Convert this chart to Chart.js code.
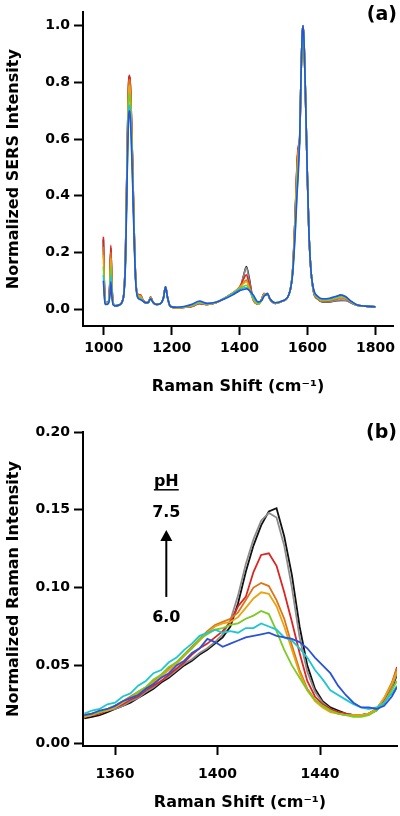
<!DOCTYPE html>
<html>
<head>
<meta charset="utf-8">
<script src="https://cdn.jsdelivr.net/npm/chart.js@4.4.1/dist/chart.umd.min.js"></script>
<style>
  html, body { margin: 0; padding: 0; background: #fff; }
  #wrap { width: 400px; height: 816px; }
  canvas { display: block; }
</style>
</head>
<body>
<div id="wrap">
  <canvas id="chartA" width="400" height="400"></canvas>
  <canvas id="chartB" width="400" height="416"></canvas>
</div>
<script>
// ---- panel (a): full SERS spectra ----
const shiftA = [999, 1001, 1004, 1008, 1014, 1018, 1021, 1024, 1028, 1035,
  1045, 1054, 1060, 1064, 1068, 1071, 1074, 1076, 1078, 1081,
  1085, 1089, 1094, 1100, 1108, 1115, 1124, 1132, 1138, 1145,
  1155, 1168, 1176, 1182, 1188, 1196, 1215, 1240, 1262, 1282,
  1305, 1330, 1355, 1380, 1400, 1412, 1420, 1428, 1440, 1455,
  1465, 1472, 1477, 1482, 1490, 1505, 1525, 1545, 1556, 1564,
  1569, 1573, 1577, 1581, 1584, 1587, 1590, 1594, 1599, 1604,
  1610, 1618, 1630, 1645, 1665, 1685, 1698, 1712, 1728, 1745,
  1770, 1800];

const a_blue = [0.100, 0.060, 0.018, 0.016, 0.020, 0.045, 0.096, 0.045, 0.014, 0.011,
  0.014, 0.025, 0.060, 0.16, 0.40, 0.58, 0.69, 0.70, 0.68, 0.60,
  0.45, 0.27, 0.100, 0.040, 0.033, 0.028, 0.022, 0.024, 0.036, 0.024,
  0.016, 0.020, 0.040, 0.078, 0.040, 0.010, 0.006, 0.010, 0.018, 0.028,
  0.020, 0.024, 0.035, 0.050, 0.065, 0.069, 0.071, 0.067, 0.050, 0.025,
  0.030, 0.045, 0.050, 0.055, 0.035, 0.022, 0.028, 0.050, 0.120, 0.270,
  0.400, 0.480, 0.600, 0.820, 0.960, 1.000, 0.940, 0.760, 0.500, 0.280,
  0.140, 0.070, 0.045, 0.036, 0.038, 0.045, 0.050, 0.044, 0.028, 0.015,
  0.010, 0.008];
const a_cyan = [0.120, 0.070, 0.020, 0.018, 0.022, 0.055, 0.120, 0.055, 0.015, 0.011,
  0.014, 0.025, 0.061, 0.165, 0.41, 0.60, 0.71, 0.72, 0.70, 0.62,
  0.46, 0.28, 0.100, 0.042, 0.036, 0.029, 0.022, 0.024, 0.037, 0.024,
  0.016, 0.020, 0.040, 0.078, 0.040, 0.010, 0.006, 0.009, 0.016, 0.026,
  0.019, 0.024, 0.037, 0.053, 0.070, 0.074, 0.076, 0.066, 0.043, 0.023,
  0.030, 0.047, 0.050, 0.055, 0.035, 0.022, 0.028, 0.050, 0.120, 0.280,
  0.410, 0.500, 0.600, 0.820, 0.960, 1.000, 0.940, 0.760, 0.500, 0.280,
  0.140, 0.068, 0.043, 0.034, 0.036, 0.043, 0.048, 0.043, 0.027, 0.015,
  0.010, 0.008];
const a_green = [0.150, 0.085, 0.022, 0.019, 0.023, 0.065, 0.150, 0.065, 0.016, 0.011,
  0.014, 0.025, 0.063, 0.17, 0.43, 0.63, 0.75, 0.76, 0.74, 0.65,
  0.48, 0.29, 0.105, 0.045, 0.040, 0.030, 0.022, 0.024, 0.039, 0.024,
  0.016, 0.020, 0.040, 0.078, 0.040, 0.010, 0.005, 0.008, 0.014, 0.024,
  0.018, 0.023, 0.037, 0.055, 0.072, 0.080, 0.084, 0.068, 0.038, 0.018,
  0.030, 0.050, 0.050, 0.054, 0.034, 0.021, 0.027, 0.050, 0.130, 0.300,
  0.440, 0.520, 0.600, 0.820, 0.960, 1.000, 0.940, 0.760, 0.500, 0.280,
  0.140, 0.066, 0.041, 0.032, 0.034, 0.040, 0.045, 0.041, 0.026, 0.014,
  0.010, 0.008];
const a_orange = [0.190, 0.100, 0.025, 0.020, 0.024, 0.075, 0.180, 0.075, 0.017, 0.011,
  0.014, 0.025, 0.064, 0.18, 0.45, 0.65, 0.78, 0.79, 0.77, 0.67,
  0.50, 0.30, 0.108, 0.048, 0.045, 0.031, 0.022, 0.024, 0.040, 0.024,
  0.016, 0.020, 0.040, 0.078, 0.040, 0.009, 0.004, 0.007, 0.012, 0.022,
  0.017, 0.022, 0.037, 0.056, 0.075, 0.090, 0.097, 0.075, 0.035, 0.018,
  0.032, 0.053, 0.050, 0.054, 0.033, 0.020, 0.027, 0.050, 0.130, 0.320,
  0.470, 0.550, 0.600, 0.820, 0.960, 1.000, 0.940, 0.760, 0.500, 0.280,
  0.140, 0.064, 0.039, 0.030, 0.032, 0.038, 0.042, 0.039, 0.025, 0.014,
  0.010, 0.008];
const a_darkorange = [0.220, 0.115, 0.028, 0.021, 0.025, 0.085, 0.200, 0.085, 0.018, 0.011,
  0.014, 0.025, 0.065, 0.18, 0.46, 0.67, 0.80, 0.81, 0.79, 0.69,
  0.51, 0.30, 0.110, 0.050, 0.048, 0.032, 0.022, 0.024, 0.041, 0.024,
  0.016, 0.020, 0.040, 0.078, 0.040, 0.009, 0.004, 0.006, 0.011, 0.021,
  0.016, 0.022, 0.037, 0.056, 0.077, 0.094, 0.102, 0.080, 0.035, 0.018,
  0.033, 0.054, 0.050, 0.054, 0.033, 0.020, 0.027, 0.050, 0.130, 0.330,
  0.490, 0.560, 0.600, 0.820, 0.960, 1.000, 0.940, 0.760, 0.500, 0.280,
  0.140, 0.063, 0.038, 0.029, 0.031, 0.036, 0.040, 0.038, 0.025, 0.014,
  0.010, 0.008];
const a_red = [0.255, 0.130, 0.030, 0.022, 0.026, 0.095, 0.225, 0.095, 0.019, 0.011,
  0.014, 0.025, 0.066, 0.185, 0.47, 0.68, 0.815, 0.825, 0.80, 0.70,
  0.52, 0.31, 0.110, 0.052, 0.050, 0.033, 0.022, 0.024, 0.042, 0.024,
  0.016, 0.020, 0.040, 0.078, 0.040, 0.009, 0.004, 0.006, 0.010, 0.020,
  0.016, 0.022, 0.037, 0.057, 0.078, 0.106, 0.121, 0.090, 0.035, 0.018,
  0.034, 0.055, 0.050, 0.053, 0.033, 0.020, 0.027, 0.050, 0.130, 0.340,
  0.510, 0.575, 0.600, 0.820, 0.960, 1.000, 0.940, 0.760, 0.500, 0.280,
  0.140, 0.062, 0.037, 0.028, 0.030, 0.035, 0.040, 0.037, 0.024, 0.014,
  0.010, 0.008];
const a_grey = [0.245, 0.125, 0.030, 0.022, 0.026, 0.090, 0.215, 0.090, 0.019, 0.011,
  0.014, 0.025, 0.066, 0.185, 0.47, 0.68, 0.81, 0.820, 0.80, 0.70,
  0.52, 0.31, 0.110, 0.051, 0.049, 0.033, 0.022, 0.024, 0.042, 0.024,
  0.016, 0.020, 0.040, 0.078, 0.040, 0.009, 0.004, 0.006, 0.010, 0.020,
  0.016, 0.022, 0.037, 0.056, 0.068, 0.118, 0.146, 0.105, 0.034, 0.018,
  0.034, 0.054, 0.050, 0.053, 0.033, 0.020, 0.027, 0.050, 0.130, 0.340,
  0.500, 0.565, 0.600, 0.820, 0.960, 1.000, 0.940, 0.760, 0.500, 0.280,
  0.140, 0.060, 0.035, 0.026, 0.026, 0.030, 0.032, 0.031, 0.022, 0.013,
  0.010, 0.008];
const a_black = [0.245, 0.125, 0.030, 0.022, 0.026, 0.090, 0.215, 0.090, 0.019, 0.011,
  0.014, 0.025, 0.066, 0.185, 0.47, 0.68, 0.81, 0.820, 0.80, 0.70,
  0.52, 0.31, 0.110, 0.051, 0.049, 0.033, 0.022, 0.024, 0.042, 0.024,
  0.016, 0.020, 0.040, 0.078, 0.040, 0.009, 0.004, 0.006, 0.010, 0.020,
  0.016, 0.022, 0.037, 0.055, 0.065, 0.118, 0.150, 0.112, 0.034, 0.018,
  0.034, 0.054, 0.050, 0.053, 0.033, 0.020, 0.027, 0.050, 0.130, 0.340,
  0.500, 0.565, 0.600, 0.820, 0.960, 1.000, 0.940, 0.760, 0.500, 0.280,
  0.140, 0.060, 0.035, 0.025, 0.025, 0.029, 0.030, 0.030, 0.022, 0.013,
  0.010, 0.008];

const ticksXA = [1000, 1200, 1400, 1600, 1800];
const ticksYA = [0, 0.2, 0.4, 0.6, 0.8, 1.0];

// ---- panel (b): 1420 cm-1 band vs pH ----
const shiftB = [1348, 1351, 1354, 1357, 1360, 1363, 1366, 1369, 1372, 1375,
  1378, 1381, 1384, 1387, 1390, 1393, 1396, 1399, 1402, 1405,
  1408, 1411, 1414, 1417, 1420, 1423, 1426, 1429, 1432, 1435,
  1438, 1441, 1444, 1447, 1450, 1453, 1456, 1459, 1462, 1465,
  1468, 1470];

const b_blue = [0.018, 0.019, 0.021, 0.022, 0.024, 0.027, 0.029, 0.031, 0.035, 0.038,
  0.042, 0.045, 0.050, 0.053, 0.058, 0.061, 0.067, 0.065, 0.062, 0.064,
  0.066, 0.068, 0.069, 0.070, 0.071, 0.069, 0.068, 0.067, 0.065, 0.061,
  0.055, 0.050, 0.045, 0.037, 0.031, 0.026, 0.023, 0.023, 0.022, 0.024,
  0.030, 0.036];
const b_cyan = [0.019, 0.021, 0.022, 0.025, 0.026, 0.030, 0.032, 0.037, 0.040, 0.045,
  0.047, 0.052, 0.055, 0.060, 0.064, 0.069, 0.071, 0.073, 0.071, 0.072,
  0.071, 0.074, 0.074, 0.077, 0.075, 0.073, 0.068, 0.066, 0.061, 0.055,
  0.047, 0.041, 0.034, 0.031, 0.028, 0.025, 0.023, 0.022, 0.023, 0.026,
  0.032, 0.037];
const b_green = [0.018, 0.019, 0.020, 0.022, 0.024, 0.027, 0.029, 0.033, 0.036, 0.041,
  0.044, 0.049, 0.052, 0.057, 0.061, 0.067, 0.070, 0.073, 0.074, 0.076,
  0.077, 0.080, 0.082, 0.085, 0.083, 0.072, 0.060, 0.050, 0.042, 0.034,
  0.028, 0.024, 0.021, 0.019, 0.018, 0.017, 0.017, 0.018, 0.021, 0.026,
  0.034, 0.040];
const b_orange = [0.017, 0.018, 0.020, 0.021, 0.023, 0.026, 0.029, 0.032, 0.035, 0.039,
  0.043, 0.047, 0.051, 0.056, 0.061, 0.066, 0.071, 0.075, 0.077, 0.078,
  0.081, 0.087, 0.093, 0.097, 0.096, 0.088, 0.075, 0.060, 0.045, 0.034,
  0.027, 0.023, 0.020, 0.019, 0.018, 0.018, 0.018, 0.019, 0.022, 0.029,
  0.038, 0.046];
const b_darkorange = [0.018, 0.019, 0.020, 0.022, 0.024, 0.027, 0.030, 0.033, 0.036, 0.040,
  0.044, 0.048, 0.052, 0.057, 0.062, 0.067, 0.072, 0.076, 0.078, 0.080,
  0.084, 0.092, 0.100, 0.103, 0.101, 0.092, 0.080, 0.063, 0.047, 0.035,
  0.028, 0.024, 0.021, 0.019, 0.018, 0.018, 0.018, 0.019, 0.022, 0.029,
  0.039, 0.048];
const b_red = [0.017, 0.018, 0.019, 0.021, 0.023, 0.025, 0.028, 0.030, 0.034, 0.037,
  0.040, 0.044, 0.048, 0.052, 0.057, 0.061, 0.064, 0.068, 0.072, 0.078,
  0.088, 0.094, 0.110, 0.121, 0.122, 0.114, 0.097, 0.078, 0.058, 0.040,
  0.030, 0.025, 0.022, 0.020, 0.019, 0.018, 0.018, 0.019, 0.022, 0.028,
  0.038, 0.049];
const b_grey = [0.017, 0.018, 0.019, 0.021, 0.022, 0.024, 0.027, 0.029, 0.033, 0.036,
  0.040, 0.043, 0.047, 0.051, 0.054, 0.058, 0.061, 0.065, 0.070, 0.079,
  0.095, 0.115, 0.131, 0.143, 0.148, 0.145, 0.127, 0.100, 0.068, 0.046,
  0.033, 0.026, 0.022, 0.020, 0.019, 0.018, 0.018, 0.019, 0.021, 0.027,
  0.036, 0.045];
const b_black = [0.016, 0.017, 0.018, 0.020, 0.022, 0.024, 0.026, 0.029, 0.032, 0.035,
  0.039, 0.042, 0.046, 0.050, 0.053, 0.057, 0.060, 0.064, 0.068, 0.075,
  0.090, 0.110, 0.127, 0.140, 0.149, 0.151, 0.133, 0.108, 0.075, 0.050,
  0.035, 0.027, 0.023, 0.021, 0.019, 0.018, 0.018, 0.019, 0.021, 0.026,
  0.035, 0.044];

const ticksXB = [1360, 1400, 1440];
const ticksYB = [0, 0.05, 0.10, 0.15, 0.20];

// pH annotation, in data units of panel (b)
const phX = 1380;
const phTitleY = 0.168;
const phHigh = '7.5', phHighY = 0.148;
const phLow = '6.0', phLowY = 0.0805;
const arrowTopY = 0.137, arrowBottomY = 0.094;

const colors = ['#2a52d8', '#1ec6d0', '#7cca26', '#e8a412', '#e07316', '#dc2424', '#8c8c8c', '#111111'];
const seriesA = [a_blue, a_cyan, a_green, a_orange, a_darkorange, a_red, a_grey, a_black];
const seriesB = [b_blue, b_cyan, b_green, b_orange, b_darkorange, b_red, b_grey, b_black];

const FONT = 'DejaVu Sans';
const tickFont = { family: FONT, size: 14, weight: 'bold' };
const titleFont = { family: FONT, size: 16, weight: 'bold' };

function toPoints(xs, ys) {
  return xs.map((x, i) => ({ x: x, y: ys[i] }));
}

function axis(min, max, ticks, fmt, title, extra, pad) {
  return Object.assign({
    type: 'linear',
    min: min,
    max: max,
    afterBuildTicks: s => { s.ticks = ticks.map(v => ({ value: v })); },
    border: { color: '#000', width: 2 },
    grid: { drawOnChartArea: false, drawTicks: true, tickLength: 9, tickColor: '#000', tickWidth: 2 },
    ticks: { color: '#000', font: tickFont, padding: pad || 4, maxRotation: 0, autoSkip: false, callback: fmt },
    title: { display: true, text: title, color: '#000', font: titleFont }
  }, extra);
}

const panelLabel = {
  id: 'panelLabel',
  afterDraw(chart, args, o) {
    const ctx = chart.ctx;
    ctx.save();
    ctx.font = 'bold 19px "DejaVu Sans"';
    ctx.fillStyle = '#000';
    ctx.textAlign = 'right';
    ctx.textBaseline = 'middle';
    ctx.fillText(o.text, chart.width - 3, o.y);
    ctx.restore();
  }
};

const phNote = {
  id: 'phNote',
  afterDraw(chart) {
    const { ctx, scales: { x, y } } = chart;
    const px = x.getPixelForValue(phX);
    ctx.save();
    ctx.fillStyle = '#000';
    ctx.strokeStyle = '#000';
    ctx.font = 'bold 16px "DejaVu Sans"';
    ctx.textAlign = 'center';
    ctx.textBaseline = 'middle';
    const ty = y.getPixelForValue(phTitleY);
    ctx.fillText('pH', px, ty);
    const w = ctx.measureText('pH').width;
    ctx.lineWidth = 1.5;
    ctx.beginPath();
    ctx.moveTo(px - w / 2, ty + 8);
    ctx.lineTo(px + w / 2, ty + 8);
    ctx.stroke();
    ctx.fillText(phHigh, px, y.getPixelForValue(phHighY));
    ctx.fillText(phLow, px, y.getPixelForValue(phLowY));
    const top = y.getPixelForValue(arrowTopY);
    const bot = y.getPixelForValue(arrowBottomY);
    ctx.lineWidth = 2;
    ctx.beginPath();
    ctx.moveTo(px, bot);
    ctx.lineTo(px, top + 9);
    ctx.stroke();
    ctx.beginPath();
    ctx.moveTo(px, top);
    ctx.lineTo(px - 6, top + 11);
    ctx.lineTo(px + 6, top + 11);
    ctx.closePath();
    ctx.fill();
    ctx.restore();
  }
};

function datasets(xs, list, smooth, width) {
  return list.map((ys, i) => ({
    data: toPoints(xs, ys),
    borderColor: colors[i],
    borderWidth: width,
    pointRadius: 0,
    fill: false,
    cubicInterpolationMode: smooth ? 'monotone' : 'default',
    tension: 0
  }));
}

new Chart(document.getElementById('chartA'), {
  type: 'line',
  data: { datasets: datasets(shiftA, seriesA, true, 1.6) },
  options: {
    responsive: false,
    animation: false,
    devicePixelRatio: 1,
    layout: { padding: { top: 12, right: 2, left: 0, bottom: 0 } },
    scales: {
      x: axis(939, 1852, ticksXA, v => String(v), 'Raman Shift (cm⁻¹)', {
        afterFit: s => { s.height = 74; }
      }, 5),
      y: axis(-0.06, 1.047, ticksYA, v => v.toFixed(1), 'Normalized SERS Intensity', {
        afterFit: s => { s.width = 83; }
      })
    },
    plugins: {
      legend: { display: false },
      tooltip: { enabled: false },
      panelLabel: { text: '(a)', y: 15 }
    }
  },
  plugins: [panelLabel]
});

new Chart(document.getElementById('chartB'), {
  type: 'line',
  data: { datasets: datasets(shiftB, seriesB, false, 1.8) },
  options: {
    responsive: false,
    animation: false,
    devicePixelRatio: 1,
    layout: { padding: { top: 32, right: 3, left: 0, bottom: 0 } },
    scales: {
      x: axis(1347.5, 1470, ticksXB, v => String(v), 'Raman Shift (cm⁻¹)', {
        afterFit: s => { s.height = 70; }
      }, 11),
      y: axis(-0.0018, 0.20, ticksYB, v => v.toFixed(2), 'Normalized Raman Intensity', {
        afterFit: s => { s.width = 83; }
      })
    },
    plugins: {
      legend: { display: false },
      tooltip: { enabled: false },
      panelLabel: { text: '(b)', y: 33 }
    }
  },
  plugins: [panelLabel, phNote]
});
</script>
</body>
</html>
